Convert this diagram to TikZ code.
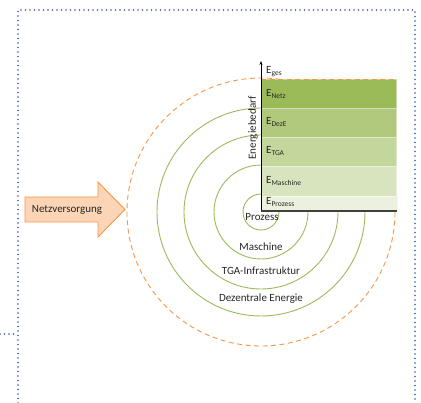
\documentclass[tikz,border=0pt]{standalone}
\usepackage{fontspec}
\setmainfont{Carlito}
\usetikzlibrary{arrows.meta}
\definecolor{dotblue}{HTML}{3B56A6}
\definecolor{orng}{HTML}{F79646}
\definecolor{orngfill}{HTML}{FBD5B5}
\definecolor{grn}{HTML}{9BBB59}
\definecolor{cNetz}{HTML}{9BBB59}
\definecolor{cDezE}{HTML}{B0C97C}
\definecolor{cTGA}{HTML}{C3D69B}
\definecolor{cMasch}{HTML}{D8E4BD}
\definecolor{cProz}{HTML}{EBF1DE}
\definecolor{txt}{HTML}{262626}
\tikzset{
  bordr/.style={dotblue, line width=1.8pt, dash pattern=on 0pt off 4.5pt, line cap=round},
  ring/.style={grn, line width=0.9pt},
  oring/.style={orng, line width=0.9pt, dash pattern=on 5pt off 3.5pt},
  bar/.style={draw=#1!55!white, fill=#1, line width=0.8pt},
  lbl/.style={font=\fontsize{11}{12}\selectfont, text=txt, inner sep=0pt},
  elbl/.style={anchor=west, font=\fontsize{11}{12}\selectfont, text=txt, inner sep=0pt},
}
\newcommand{\sbx}[1]{\raisebox{-2.2pt}{\fontsize{7.5}{8}\selectfont #1}}
\begin{document}
\begin{tikzpicture}[x=1pt,y=-1pt]
\useasboundingbox (0,0) rectangle (421,403);
% border
\draw[bordr] (18,403) -- (18,10) -- (415,10) -- (415,403);
\draw[bordr] (0,334) -- (18,334);
% centre
\coordinate (c) at (261,212);
% rings
\draw[oring] (c) circle[radius=134];
\draw[ring] (c) circle[radius=104];
\draw[ring] (c) circle[radius=77];
\draw[ring] (c) circle[radius=47];
\draw[ring] (c) circle[radius=18];
% bars
\path[bar=cNetz]  (261,79)  rectangle (396,108) node[pos=0](bNetz){};
\path[bar=cDezE]  (261,108) rectangle (396,137) node[pos=0](bDezE){};
\path[bar=cTGA]   (261,137) rectangle (396,166) node[pos=0](bTGA){};
\path[bar=cMasch] (261,166) rectangle (396,196) node[pos=0](bMasch){};
\path[bar=cProz]  (261,196) rectangle (397,210.5) node[pos=0](bProz){};
\draw[orng, line width=0.9pt, dash pattern=on 5pt off 3.5pt] (261,79) -- (396,79);
% axes
\coordinate (o) at (261,211);
\coordinate (ytop) at (261,61);
\coordinate (xend) at (397,211);
\draw[black, line width=0.9pt, -{Stealth[length=4pt,width=3pt]}] (o) -- (ytop);
\draw[black!75, line width=1.1pt] (o) -- (xend);
% E labels
\node[elbl] (eges) at (266,72) {E\sbx{ges}};
\node[elbl] (enetz) at (266,94) {E\sbx{Netz}};
\node[elbl] (edeze) at (266,122) {E\sbx{DezE}};
\node[elbl] (etga) at (266,151) {E\sbx{TGA}};
\node[elbl] (emasch) at (266,181) {E\sbx{Maschine}};
\node[elbl] (eproz) at (266,202) {E\sbx{Prozess}};
\node[lbl, rotate=90] (ebed) at (253,128) {Energiebedarf};
% ring labels
\node[lbl] (lproz) at (262,217) {Prozess};
\node[lbl] (lmasch) at (261,247) {Maschine};
\node[lbl] (ltga) at (261,271) {TGA-Infrastruktur};
\node[lbl] (ldez) at (261,299) {Dezentrale Energie};
% block arrow
\draw[orng, fill=orngfill, line width=0.9pt, line join=miter]
  (25,197) -- (98,197) -- (98,182) -- (125,209.5) -- (98,237) -- (98,222) -- (25,222) -- cycle;
\node[lbl] (netz) at (67,210) {Netzversorgung};
\end{tikzpicture}
\end{document}
